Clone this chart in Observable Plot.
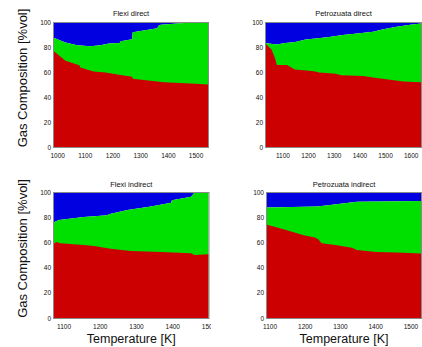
<!DOCTYPE html>
<html>
<head>
<meta charset="utf-8">
<script src="https://cdn.jsdelivr.net/npm/d3@7"></script>
<script src="https://cdn.jsdelivr.net/npm/@observablehq/plot@0.6"></script>
<style>
  html, body { margin: 0; padding: 0; background: #fff; }
  #chart { position: relative; width: 422px; height: 347px; overflow: hidden; background: #fff; }
  #chart > div { position: absolute; }
</style>
</head>
<body>
<div id="chart"></div>
<script>
// ---- Data ----
const titles = ["Flexi direct", "Petrozuata direct", "Flexi indirect", "Petrozuata indirect"];
const yTicks = [0, 20, 40, 60, 80, 100];
const xTicks1 = [1000, 1100, 1200, 1300, 1400, 1500];
const xTicks2 = [1100, 1200, 1300, 1400, 1500, 1600];
const xTicks3 = [1100, 1200, 1300, 1400, 1500];
const xTicks4 = [1100, 1200, 1300, 1400, 1500];
const xDomain1 = [985, 1545];
const xDomain2 = [1032, 1640];
const xDomain3 = [1071, 1500];
const xDomain4 = [1090, 1530];

// Flexi direct: red share and cumulative (red+green) top
const redT1 = [985, 1030, 1066, 1080, 1084, 1132, 1175, 1229, 1271, 1273, 1362, 1386, 1482, 1545];
const redV1 = [77.3, 69.1, 66.4, 65.5, 63.7, 60.4, 59.6, 57.7, 56.3, 54.6, 52.5, 51.9, 50.8, 50.0];
const topT1 = [985, 1030, 1072, 1120, 1156, 1187, 1226, 1229, 1271, 1273, 1362, 1366, 1374, 1458, 1545];
const topV1 = [87.7, 83.6, 81.4, 80.6, 81.4, 82.8, 83.3, 84.7, 86.3, 91.8, 95.1, 97, 97.8, 99.2, 100];

// Petrozuata direct
const redT2 = [1032, 1058, 1071, 1078, 1118, 1148, 1183, 1223, 1243, 1308, 1328, 1414, 1453, 1519, 1572, 1640];
const redV2 = [83.3, 77.9, 71, 65.6, 65.6, 62, 61.5, 60.7, 59.6, 58.7, 57.4, 56.8, 55.7, 53.8, 52.5, 51.9];
const topT2 = [1032, 1078, 1111, 1150, 1190, 1229, 1282, 1335, 1400, 1453, 1493, 1545, 1598, 1640];
const topV2 = [83.3, 82, 83.3, 84, 86, 86.9, 88, 89.6, 91, 92.3, 94.3, 96.2, 97.8, 98.9];

// Flexi indirect
const redT3 = [1071, 1080, 1091, 1156, 1184, 1230, 1286, 1369, 1452, 1461, 1500];
const redV3 = [58.5, 60.3, 59.3, 57.9, 57.1, 55, 53.2, 52.4, 51.3, 50, 50.5];
const topT3 = [1071, 1075, 1087, 1156, 1221, 1225, 1276, 1341, 1397, 1399, 1452, 1461, 1471, 1500];
const topV3 = [71.7, 76.2, 77.8, 80.2, 81.5, 82.3, 85.7, 88.4, 91.5, 93.4, 96.3, 99.5, 100, 100];

// Petrozuata indirect
const redT4 = [1090, 1140, 1197, 1229, 1239, 1248, 1291, 1334, 1348, 1404, 1461, 1530];
const redV4 = [74.3, 70.4, 65.6, 63.8, 62.4, 59.3, 57.7, 55.8, 54, 52.4, 51.9, 51.1];
const topT4 = [1090, 1235, 1272, 1348, 1530];
const topV4 = [87.6, 88.4, 89.7, 92.3, 92.9];

const yLabel = "Gas Composition [%vol]";
const xLabel = "Temperature [K]";
const colors = { red: "#cc0000", green: "#00e000", blue: "#0000e0" };

const FONT = "'Liberation Sans', Arial, Helvetica, sans-serif";

function panel(o) {
  const marks = [
    Plot.areaY({length: o.topT.length}, {x: o.topT, y1: o.topV, y2: 100, fill: colors.blue}),
    Plot.areaY({length: o.topT.length}, {x: o.topT, y1: 0, y2: o.topV, fill: colors.green}),
    Plot.areaY({length: o.redT.length}, {x: o.redT, y1: 0, y2: o.redV, fill: colors.red}),
    Plot.frame({stroke: "#8a8a8a", strokeWidth: 1}),
    Plot.text([o.title], {text: d => d, frameAnchor: "top", lineAnchor: "bottom", dy: o.titleDy, fontSize: 7.5, fill: "#111"})
  ];
  if (o.ylab) marks.push(Plot.text([yLabel], {text: d => d, frameAnchor: "left", rotate: -90, textAnchor: "middle", lineAnchor: "middle", dx: -(o.ml - 22), dy: -7, fontSize: 13, fill: "#111", ariaLabel: "ylabel"}));
  if (o.xlab) marks.push(Plot.text([xLabel], {text: d => d, frameAnchor: "bottom", lineAnchor: "bottom", dy: 24, fontSize: 12.5, fill: "#111"}));
  const svg = Plot.plot({
    width: 211,
    height: o.height,
    marginTop: o.mt, marginBottom: o.mb, marginLeft: o.ml, marginRight: o.mr,
    style: {fontFamily: FONT, fontSize: "6.5px", color: "#111", background: "transparent", overflow: o.clip ? "hidden" : "visible"},
    x: {domain: o.xDomain, ticks: o.xTicks, tickSize: 0, tickPadding: 5.5, label: null, tickFormat: d => String(d)},
    y: {domain: [0, 100], ticks: yTicks, tickSize: 0, tickPadding: 2.5, label: null},
    marks
  });
  svg.querySelectorAll('g[aria-label="ylabel"] text').forEach(t => {
    t.setAttribute("textLength", o.ylen);
    t.setAttribute("lengthAdjust", "spacingAndGlyphs");
  });
  const wrap = document.createElement("div");
  wrap.style.left = o.left + "px";
  wrap.style.top = o.top + "px";
  wrap.appendChild(svg);
  document.getElementById("chart").appendChild(wrap);
}

panel({title: titles[0], xDomain: xDomain1, xTicks: xTicks1, redT: redT1, redV: redV1, topT: topT1, topV: topV1,
  left: 0, top: 0, height: 175, mt: 22, mb: 28, ml: 53, mr: 3, titleDy: -7, ylab: true, ylen: 123});
panel({title: titles[1], xDomain: xDomain2, xTicks: xTicks2, redT: redT2, redV: redV2, topT: topT2, topV: topV2,
  left: 211, top: 0, height: 175, mt: 22, mb: 28, ml: 54, mr: 1, titleDy: -7});
panel({title: titles[2], xDomain: xDomain3, xTicks: xTicks3, redT: redT3, redV: redV3, topT: topT3, topV: topV3,
  left: 0, top: 175, height: 172, mt: 17, mb: 29, ml: 53, mr: 2.5, titleDy: -6, ylab: true, ylen: 127, xlab: true, clip: true});
panel({title: titles[3], xDomain: xDomain4, xTicks: xTicks4, redT: redT4, redV: redV4, topT: topT4, topV: topV4,
  left: 211, top: 175, height: 172, mt: 17, mb: 29, ml: 55, mr: 1, titleDy: -6, xlab: true});
</script>
</body>
</html>
